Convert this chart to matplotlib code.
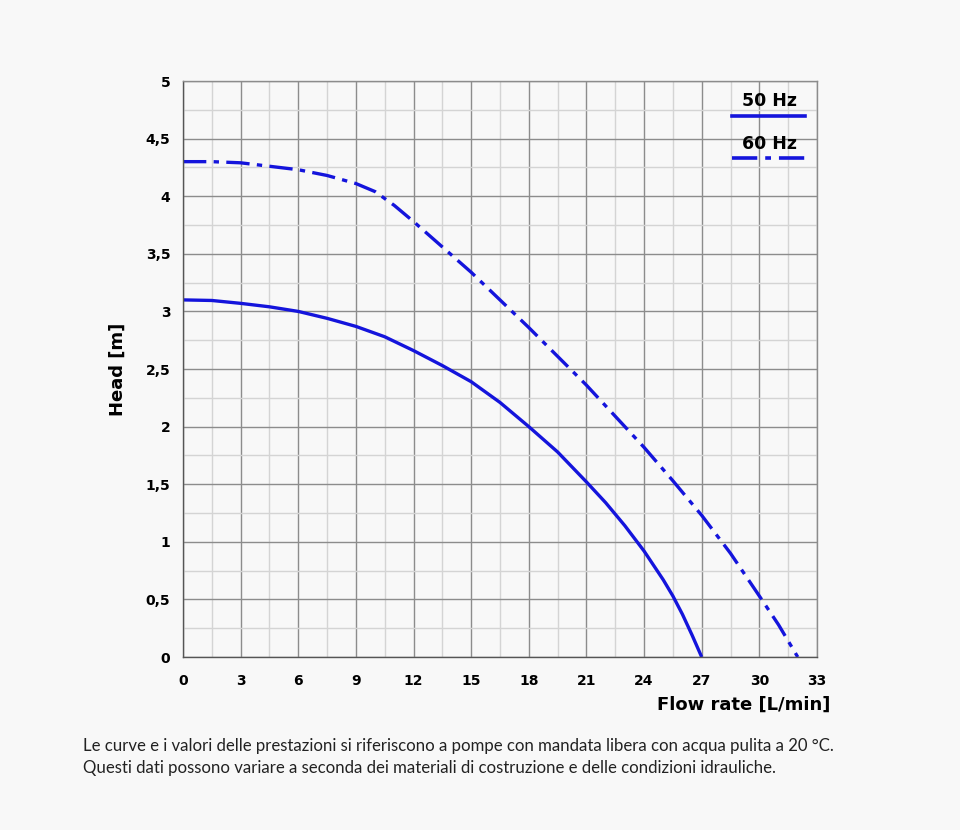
import matplotlib.pyplot as plt
from matplotlib.ticker import MultipleLocator, FuncFormatter

# flow rate [L/min] and head [m]
flow_50 = [0, 1.5, 3, 4.5, 6, 7.5, 9, 10.5, 12, 13.5, 15, 16.5, 18, 19.5, 21, 22, 23, 24, 25, 25.5, 26, 26.5, 27]
head_50 = [3.10, 3.095, 3.07, 3.04, 3.00, 2.94, 2.87, 2.78, 2.66, 2.53, 2.39, 2.21, 2.00, 1.78, 1.52, 1.34, 1.14, 0.92, 0.67, 0.53, 0.37, 0.19, 0.0]

flow_60 = [0, 1.5, 3, 4.5, 6, 7.5, 9, 10, 11, 12, 13.5, 15, 16.5, 18, 19.5, 21, 22.5, 24, 25.5, 27, 28.5, 30, 31, 32]
head_60 = [4.30, 4.30, 4.29, 4.26, 4.23, 4.18, 4.11, 4.04, 3.92, 3.78, 3.56, 3.34, 3.10, 2.86, 2.61, 2.36, 2.09, 1.82, 1.53, 1.23, 0.90, 0.53, 0.28, 0.0]

x_ticks = [0, 3, 6, 9, 12, 15, 18, 21, 24, 27, 30, 33]
footer = ("Le curve e i valori delle prestazioni si riferiscono a pompe con mandata libera con acqua pulita a 20 °C.\n"
          "Questi dati possono variare a seconda dei materiali di costruzione e delle condizioni idrauliche.")

bg = '#f8f8f8'
blue = '#1414dc'
dd = (7, 2.2, 1.6, 2.2)

fig = plt.figure(figsize=(9.6, 8.3), dpi=100, facecolor=bg)
ax = fig.add_axes([0.1906, 0.2084, 0.6604, 0.694], facecolor=bg)

ax.plot(flow_50, head_50, color=blue, lw=2.4, solid_capstyle='butt')
ax.plot(flow_60, head_60, color=blue, lw=2.4, dashes=dd)

ax.set_xlim(0, 33)
ax.set_ylim(0, 5)
ax.set_xticks(x_ticks)
ax.xaxis.set_minor_locator(MultipleLocator(1.5))
ax.yaxis.set_major_locator(MultipleLocator(0.5))
ax.yaxis.set_minor_locator(MultipleLocator(0.25))
ax.yaxis.set_major_formatter(FuncFormatter(lambda v, p: ('%g' % v).replace('.', ',')))

ax.grid(which='major', color='#8c8c8c', lw=1.0)
ax.grid(which='minor', color='#d4d4d4', lw=1.0)
ax.set_axisbelow(True)
for s in ax.spines.values():
    s.set_color('#8c8c8c')
    s.set_linewidth(1.0)
ax.spines['left'].set_color('#555555')
ax.spines['bottom'].set_color('#555555')

ax.tick_params(which='both', length=0)
ax.tick_params(axis='x', pad=12, labelsize=10)
ax.tick_params(axis='y', pad=9, labelsize=10)
for lbl in ax.get_xticklabels() + ax.get_yticklabels():
    lbl.set_fontweight('bold')

ax.set_ylabel('Head [m]', fontsize=13, fontweight='bold', labelpad=14)
fig.text(0.865, 0.151, 'Flow rate [L/min]', ha='right', va='center', fontsize=13, fontweight='bold')

# legend drawn by hand
fig.text(0.802, 0.878, '50 Hz', ha='center', va='center', fontsize=12.5, fontweight='bold')
fig.add_artist(plt.Line2D([0.763, 0.839], [0.860, 0.860], color=blue, lw=2.6))
fig.text(0.802, 0.827, '60 Hz', ha='center', va='center', fontsize=12.5, fontweight='bold')
fig.add_artist(plt.Line2D([0.763, 0.839], [0.810, 0.810], color=blue, lw=2.6, dashes=dd))

fig.text(0.086, 0.088, footer, ha='left', va='center', fontsize=12.1, family='Lato',
         color='#222222', linespacing=1.4)

fig.savefig('out.png', dpi=100, facecolor=bg)
